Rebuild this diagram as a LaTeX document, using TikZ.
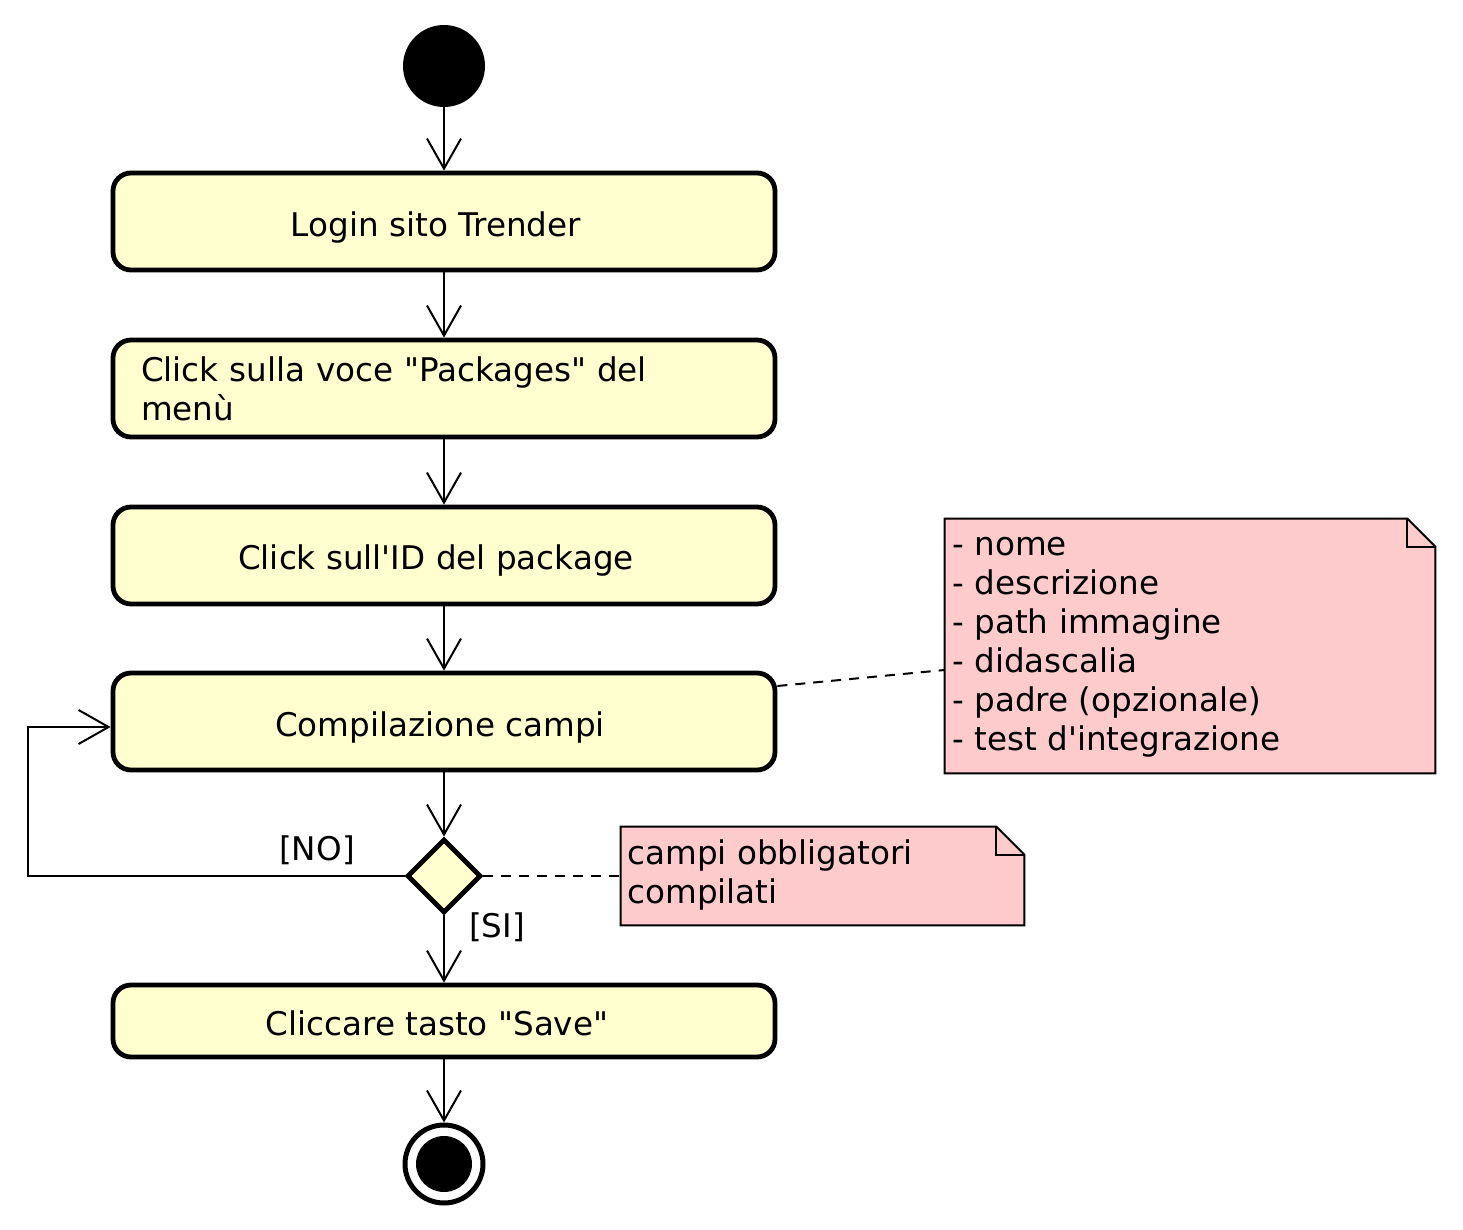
\documentclass[tikz,border=0pt]{standalone}
\usepackage{fontspec}
\setmainfont{DejaVu Sans}[Ligatures=TeXOff]
\usetikzlibrary{arrows.meta,shapes.geometric}
\definecolor{actfill}{HTML}{FEFECE}
\definecolor{notefill}{HTML}{FDCBCB}
\newcommand{\lowtxt}[2]{\raisebox{-#1}[\height][\depth]{#2}}
\tikzset{
  txt/.style={font=\fontsize{16.3}{19.5}\selectfont},
  act/.style={draw, line width=2.4pt, rounded corners=9pt, fill=actfill,
    minimum width=331pt, minimum height=48.5pt, inner sep=0pt, txt},
  flow/.style={line width=1pt, -{Straight Barb[length=15pt,width=17pt,line width=1pt]}},
  notelink/.style={line width=1pt, dash pattern=on 5pt off 4pt},
  noteline/.style={line width=1pt, fill=notefill, line join=miter},
  notetext/.style={txt, align=left, inner sep=0pt, anchor=north west},
}
\begin{document}
\begin{tikzpicture}[x=0.5pt, y=-0.5pt]
\path[use as bounding box, fill=white] (0,0) rectangle (1463,1230);

\node[circle, fill=black, minimum size=41pt, inner sep=0pt] (start) at (444,66) {};
\node[act] (b1) at (444,221.5) {\lowtxt{3pt}{Login sito Trender}\hspace*{8pt}};
\node[act, text width=303pt, align=left] (b2) at (444,388.5) {Click sulla voce "Packages" del\\menù};
\node[act] (b3) at (444,555.5) {\lowtxt{2.5pt}{Click sull'ID del package}\hspace*{8pt}};
\node[act] (b4) at (444,721.5) {\lowtxt{3pt}{Compilazione campi}\hspace*{4pt}};
\node[diamond, draw, line width=2.4pt, fill=actfill, minimum width=37pt, minimum height=37pt, inner sep=0pt] (d) at (444,876) {};
\node[act, minimum height=36pt] (b5) at (444,1021) {\lowtxt{1pt}{Cliccare tasto "Save"}\hspace*{7pt}};
\node[circle, draw, line width=2.5pt, minimum size=39pt, inner sep=0pt] (end) at (444,1164) {};
\fill (end.center) circle (14pt);

\draw[flow] (start) -- (b1);
\draw[flow] (b1) -- (b2);
\draw[flow] (b2) -- (b3);
\draw[flow] (b3) -- (b4);
\draw[flow] (b4) -- (d);
\draw[flow] (d) -- (b5);
\draw[flow] (b5) -- (end);
\draw[flow] (d.west) -- (28,876) |- ([yshift=-2.75pt]b4.west);

\node[txt, inner sep=0pt] (no) at (317,850) {[NO]};
\node[txt, inner sep=0pt] (si) at (497,927) {[SI]};

% note 1
\node[minimum width=245pt, minimum height=127pt, inner sep=0pt] (n1) at (1190,646) {};
\draw[noteline] (n1.north west) -- ([xshift=-14pt]n1.north east) -- ([yshift=-14pt]n1.north east)
  -- (n1.south east) -- (n1.south west) -- cycle;
\draw[line width=1pt] ([xshift=-14pt]n1.north east) -- ([xshift=-14pt,yshift=-14pt]n1.north east) -- ([yshift=-14pt]n1.north east);
\node[notetext] (n1t) at (952,537) {- nome\\- descrizione\\- path immagine\\- didascalia\\- padre (opzionale)\\- test d'integrazione};

% note 2
\node[minimum width=201.5pt, minimum height=49pt, inner sep=0pt] (n2) at (822.5,876) {};
\draw[noteline] (n2.north west) -- ([xshift=-14pt]n2.north east) -- ([yshift=-14pt]n2.north east)
  -- (n2.south east) -- (n2.south west) -- cycle;
\draw[line width=1pt] ([xshift=-14pt]n2.north east) -- ([xshift=-14pt,yshift=-14pt]n2.north east) -- ([yshift=-14pt]n2.north east);
\node[notetext] (n2t) at (627,839) {campi obbligatori\\compilati};

\draw[notelink] ([yshift=17.75pt]b4.east) -- ([yshift=-12pt]n1.west);
\draw[notelink] (d.east) -- (n2.west);
\end{tikzpicture}
\end{document}
